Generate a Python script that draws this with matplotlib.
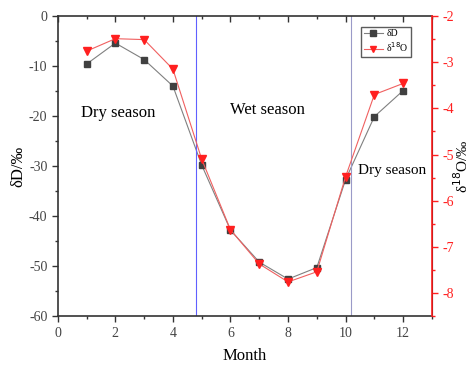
import numpy as np
import matplotlib.pyplot as plt
from matplotlib.ticker import MultipleLocator

plt.rcParams['font.family'] = ['Liberation Serif', 'DejaVu Serif']
plt.rcParams['axes.unicode_minus'] = False

months = [1, 2, 3, 4, 5, 6, 7, 8, 9, 10, 11, 12]
dD = [-9.6, -5.4, -8.7, -14.0, -29.8, -42.8, -49.2, -52.6, -50.3, -32.7, -20.1, -14.9]
d18O = [-2.76, -2.49, -2.51, -3.15, -5.1, -6.63, -7.37, -7.76, -7.54, -5.48, -3.7, -3.46]

fig = plt.figure(figsize=(4.7, 3.65), dpi=100)
ax = fig.add_axes([0.123, 0.134, 0.796, 0.822])
ax2 = ax.twinx()

l1, = ax.plot(months, dD, color='#808080', lw=0.8, marker='s', ms=5,
              mfc='#404040', mec='#404040', label='δD')
l2, = ax2.plot(months, d18O, color='#f06060', lw=0.8, marker='v', ms=6,
               mfc='#ff2020', mec='#ff2020', label='δ$^{18}$O')

# season boundaries
ax.axvline(4.8, color='#6060ff', lw=0.8)
ax.axvline(10.2, color='#9a9ac8', lw=0.8)

ax.set_xlim(0, 13)
ax.set_ylim(-60, 0)
ax2.set_ylim(-8.5, -2)

ax.xaxis.set_major_locator(MultipleLocator(2))
ax.xaxis.set_minor_locator(MultipleLocator(1))
ax.yaxis.set_major_locator(MultipleLocator(10))
ax.yaxis.set_minor_locator(MultipleLocator(5))
ax2.yaxis.set_major_locator(MultipleLocator(1))
ax2.yaxis.set_minor_locator(MultipleLocator(0.5))

for sp in ['left', 'bottom', 'top']:
    ax.spines[sp].set_color('#333333')
    ax.spines[sp].set_linewidth(1.2)
ax2.spines['right'].set_color('#ff2020')
ax2.spines['right'].set_linewidth(1.2)
ax2.spines['left'].set_visible(False)
ax2.spines['top'].set_visible(False)
ax2.spines['bottom'].set_visible(False)

ax.tick_params(axis='both', which='major', length=4, width=1, color='#333333',
               labelsize=10, labelcolor='#444444')
ax.tick_params(axis='both', which='minor', length=2.5, width=1, color='#333333')
ax.tick_params(axis='x', which='both', top=True, direction='out')
ax2.tick_params(axis='y', which='major', length=4, width=1, colors='#ff2020', labelsize=10)
ax2.tick_params(axis='y', which='minor', length=2.5, width=1, color='#ff2020')

# top ticks point inward
for t in ax.xaxis.get_major_ticks() + ax.xaxis.get_minor_ticks():
    t.tick2line.set_marker(3)

ax.set_xlabel('Month', fontsize=12, labelpad=6)
ax.set_ylabel('δD/‰', fontsize=12, labelpad=2)
ax2.set_ylabel('δ$^{18}$O/‰', fontsize=11, labelpad=-1)

ax.text(2.1, -19.3, 'Dry season', ha='center', va='center', fontsize=12)
ax.text(7.3, -18.8, 'Wet season', ha='center', va='center', fontsize=12)
ax.text(11.6, -30.8, 'Dry season', ha='center', va='center', fontsize=11)

ax.legend([l1, l2], ['δD', 'δ$^{18}$O'], loc='upper right', bbox_to_anchor=(0.945, 0.965),
          fontsize=7, frameon=True, fancybox=False, edgecolor='#333333',
          handlelength=2.0, markerscale=0.75, borderpad=0.3, labelspacing=0.2,
          handletextpad=0.3, borderaxespad=0)

fig.savefig('out.png', dpi=100)
